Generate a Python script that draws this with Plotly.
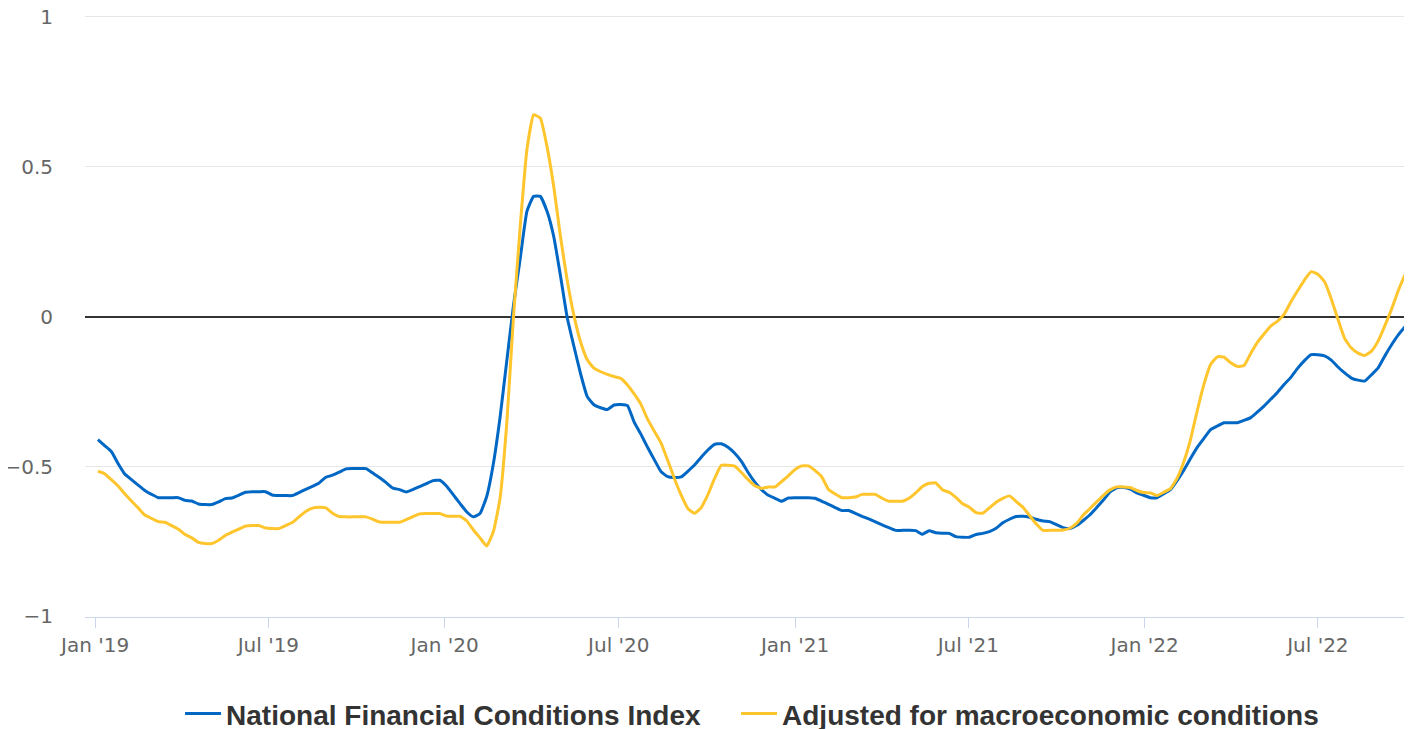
import pandas as pd
import plotly.graph_objects as go

# Weekly observations (Fridays), Jan 4 2019 - Sep 30 2022
dates = pd.date_range("2019-01-04", periods=196, freq="7D")

nfci = [
    -0.41, -0.43, -0.45, -0.49, -0.525, -0.544, -0.562, -0.58, -0.593, -0.604,
    -0.604, -0.604, -0.604, -0.613, -0.615, -0.625, -0.627, -0.627, -0.618, -0.607,
    -0.605, -0.596, -0.586, -0.584, -0.584, -0.584, -0.595, -0.597, -0.597, -0.597,
    -0.587, -0.576, -0.566, -0.555, -0.536, -0.529, -0.519, -0.508, -0.507, -0.507,
    -0.507, -0.522, -0.537, -0.554, -0.572, -0.577, -0.585, -0.577, -0.567, -0.557,
    -0.547, -0.546, -0.565, -0.594, -0.623, -0.651, -0.668, -0.657, -0.600, -0.49,
    -0.335, -0.147, 0.038, 0.194, 0.351, 0.401, 0.401, 0.351, 0.267, 0.137,
    -0.002, -0.098, -0.19, -0.267, -0.294, -0.304, -0.31, -0.295, -0.293, -0.297,
    -0.352, -0.392, -0.436, -0.477, -0.517, -0.534, -0.537, -0.535, -0.516, -0.495,
    -0.469, -0.445, -0.426, -0.424, -0.436, -0.456, -0.483, -0.52, -0.552, -0.577,
    -0.596, -0.606, -0.616, -0.605, -0.604, -0.604, -0.604, -0.606, -0.616, -0.626,
    -0.637, -0.647, -0.647, -0.656, -0.666, -0.675, -0.685, -0.695, -0.704, -0.713,
    -0.713, -0.713, -0.714, -0.726, -0.714, -0.721, -0.723, -0.723, -0.734, -0.736,
    -0.736, -0.727, -0.723, -0.717, -0.706, -0.688, -0.676, -0.667, -0.666, -0.669,
    -0.676, -0.682, -0.684, -0.694, -0.704, -0.707, -0.697, -0.68, -0.661, -0.637,
    -0.612, -0.585, -0.571, -0.57, -0.575, -0.588, -0.596, -0.604, -0.604, -0.591,
    -0.577, -0.547, -0.512, -0.473, -0.436, -0.406, -0.377, -0.365, -0.354, -0.354,
    -0.354, -0.346, -0.337, -0.318, -0.298, -0.275, -0.252, -0.226, -0.202, -0.172,
    -0.147, -0.127, -0.127, -0.131, -0.145, -0.168, -0.188, -0.205, -0.212, -0.215,
    -0.194, -0.171, -0.131, -0.094, -0.061, -0.034,
]

adjusted = [
    -0.516, -0.524, -0.544, -0.565, -0.591, -0.615, -0.638, -0.662, -0.673, -0.684,
    -0.686, -0.697, -0.709, -0.727, -0.738, -0.753, -0.757, -0.757, -0.746, -0.73,
    -0.719, -0.709, -0.699, -0.697, -0.697, -0.705, -0.707, -0.707, -0.697, -0.687,
    -0.668, -0.65, -0.639, -0.636, -0.638, -0.656, -0.667, -0.668, -0.668, -0.668,
    -0.668, -0.676, -0.685, -0.686, -0.686, -0.686, -0.677, -0.667, -0.658, -0.657,
    -0.657, -0.657, -0.665, -0.666, -0.666, -0.681, -0.711, -0.738, -0.765, -0.717,
    -0.605, -0.354, 0.0, 0.301, 0.557, 0.673, 0.662, 0.567, 0.434, 0.268,
    0.123, 0.005, -0.084, -0.144, -0.172, -0.184, -0.193, -0.2, -0.206, -0.228,
    -0.258, -0.292, -0.342, -0.382, -0.421, -0.479, -0.540, -0.595, -0.640, -0.656,
    -0.637, -0.594, -0.540, -0.496, -0.496, -0.499, -0.52, -0.544, -0.564, -0.573,
    -0.568, -0.568, -0.55, -0.531, -0.51, -0.498, -0.498, -0.514, -0.535, -0.577,
    -0.592, -0.604, -0.604, -0.602, -0.593, -0.593, -0.593, -0.606, -0.616, -0.616,
    -0.616, -0.606, -0.588, -0.567, -0.556, -0.555, -0.578, -0.586, -0.603, -0.624,
    -0.636, -0.654, -0.656, -0.638, -0.619, -0.606, -0.598, -0.617, -0.636, -0.664,
    -0.692, -0.713, -0.713, -0.713, -0.712, -0.706, -0.69, -0.662, -0.64, -0.618,
    -0.596, -0.578, -0.568, -0.568, -0.57, -0.58, -0.587, -0.588, -0.597, -0.586,
    -0.574, -0.539, -0.484, -0.41, -0.314, -0.226, -0.16, -0.134, -0.135, -0.154,
    -0.166, -0.163, -0.122, -0.085, -0.057, -0.031, -0.015, 0.009, 0.05, 0.087,
    0.122, 0.150, 0.141, 0.116, 0.059, -0.009, -0.073, -0.105, -0.122, -0.13,
    -0.115, -0.081, -0.03, 0.025, 0.087, 0.14,
]

series_names = ["National Financial Conditions Index", "Adjusted for macroeconomic conditions"]
series_colors = ["#0068c4", "#ffc52d"]
legend_ids = ["legend", "legend2"]

fig = go.Figure()
for name, vals, col, lg in zip(series_names, [nfci, adjusted], series_colors, legend_ids):
    fig.add_trace(go.Scatter(
        x=dates, y=vals, mode="lines", name=name, legend=lg,
        line=dict(color=col, width=3, shape="spline", smoothing=0.4),
    ))

legend_font = dict(family="Liberation Sans, Arial", size=28, color="#333333", weight="bold")

# page body has an 8px default margin, so the figure is sized to fit the window
fig.update_layout(
    width=1404, height=721,
    margin=dict(l=77, r=7, t=7, b=112, autoexpand=False),
    paper_bgcolor="white", plot_bgcolor="white",
    font=dict(family="DejaVu Sans", size=20, color="#666666"),
    showlegend=True,
    legend=dict(
        orientation="h", x=0.072, xanchor="left", y=-0.161, yanchor="middle",
        font=legend_font, itemwidth=36,
    ),
    legend2=dict(
        orientation="h", x=0.4932, xanchor="left", y=-0.161, yanchor="middle",
        font=legend_font, itemwidth=36,
    ),
    xaxis=dict(
        type="date",
        range=["2018-12-21 12:00", "2022-09-30"],
        tick0="2019-01-01", dtick="M6", tickformat="%b '%y",
        showgrid=False, zeroline=False, automargin=False,
        showline=True, linecolor="#ccd6eb", linewidth=1,
        ticks="outside", ticklen=10, tickcolor="#ccd6eb", tickwidth=1,
        tickfont=dict(family="DejaVu Sans", size=20, color="#666666"),
    ),
    yaxis=dict(
        range=[-1.002, 1.006], dtick=0.5, tick0=0, automargin=False,
        showgrid=True, gridcolor="#e6e6e6", gridwidth=1,
        zeroline=True, zerolinecolor="#333333", zerolinewidth=2,
        showline=False, ticks="", ticklabelstandoff=31,
        ticklabeloverflow="allow",
        tickfont=dict(family="DejaVu Sans", size=20, color="#666666"),
    ),
)

fig.write_html("out.html")
